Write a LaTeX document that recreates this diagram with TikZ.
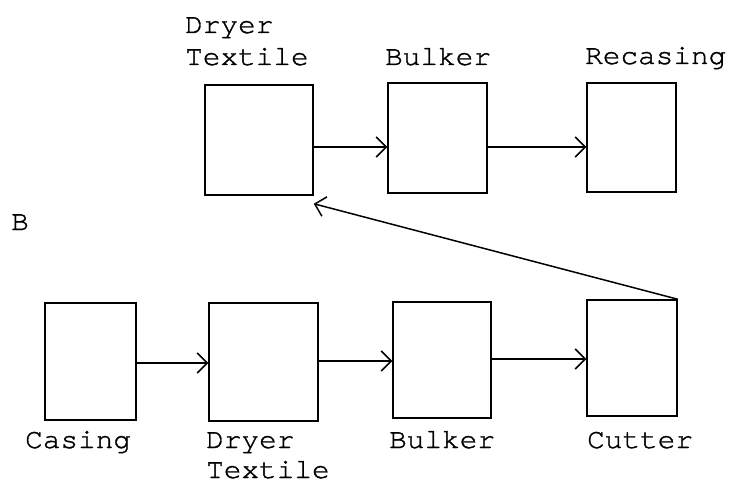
\documentclass[tikz,border=0pt]{standalone}
\usepackage{fontspec}
\newfontfamily\typefont{TeX Gyre Cursor}[FakeStretch=1.05,FakeBold=1.2]
\usetikzlibrary{arrows.meta}
\begin{document}
\begin{tikzpicture}[x=1pt,y=-1pt,
  unit/.style={draw,line width=1.5pt,rectangle,inner sep=0pt},
  lbl/.style={anchor=base west,inner sep=0pt,font=\typefont\fontsize{28}{30}\selectfont},
  flow/.style={line width=1.5pt,-{Straight Barb[length=10pt,width=20pt,line width=1.5pt]}}]
\useasboundingbox (0,0) rectangle (729,484);

% upper line
\node[unit,minimum width=108pt,minimum height=110pt] (dt1) at (259,140) {};
\node[unit,minimum width=99pt,minimum height=110pt] (bk1) at (437.5,138) {};
\node[unit,minimum width=89pt,minimum height=109pt] (rc) at (631.5,137.5) {};

\node[lbl] (dt1a) at (185,33) {Dryer};
\node[lbl] (dt1b) at (185,65) {Textile};
\node[lbl] (bk1a) at (385,65) {Bulker};
\node[lbl] (rca) at (585,64) {Recasing};

% lower line
\node[unit,minimum width=91pt,minimum height=117pt] (cs) at (90.5,361.5) {};
\node[unit,minimum width=109pt,minimum height=118pt] (dt2) at (263.5,362) {};
\node[unit,minimum width=98pt,minimum height=116pt] (bk2) at (442,360) {};
\node[unit,minimum width=90pt,minimum height=116pt] (ct) at (632,358) {};

\node[lbl] (csa) at (25,448) {Casing};
\node[lbl] (dt2a) at (206,448) {Dryer};
\node[lbl] (dt2b) at (206,478) {Textile};
\node[lbl] (bk2a) at (389,448) {Bulker};
\node[lbl] (cta) at (587,448) {Cutter};

\node[lbl] (b) at (11,230) {B};

% connectors
\draw[flow] (dt1.east |- 0,147) -- (bk1.west |- 0,147);
\draw[flow] (bk1.east |- 0,147) -- (rc.west |- 0,147);
\draw[flow] (cs.east |- 0,363) -- (dt2.west |- 0,363);
\draw[flow] (dt2.east |- 0,361) -- (bk2.west |- 0,361);
\draw[flow] (bk2.east |- 0,359) -- (ct.west |- 0,359);
\draw[flow] (ct.north east) -- ([yshift=-8pt]dt1.south east);
\end{tikzpicture}
\end{document}
